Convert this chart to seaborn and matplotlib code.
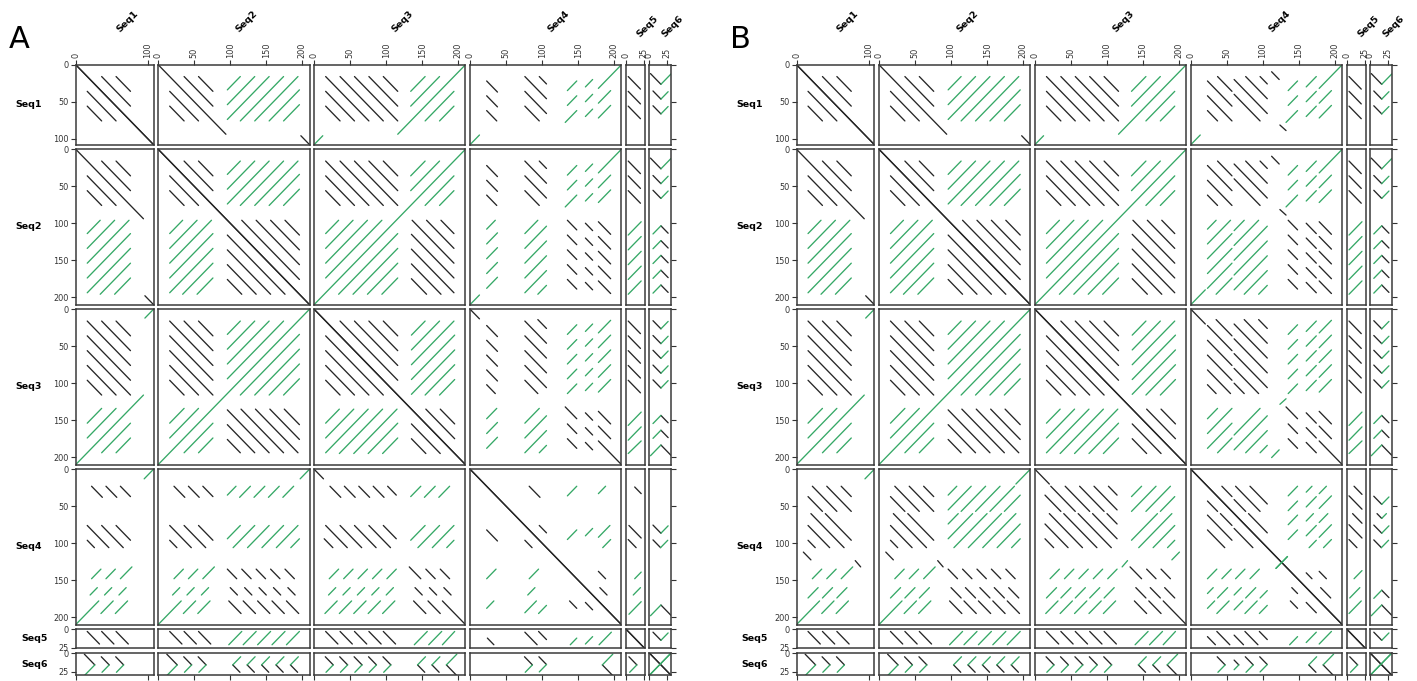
import matplotlib
matplotlib.use("Agg")
import matplotlib.pyplot as plt
import seaborn as sns
import pandas as pd

# ---------------- data ----------------
names = ["Seq1", "Seq2", "Seq3", "Seq4", "Seq5", "Seq6"]
lengths = [108, 210, 210, 210, 26, 30]
xticks = [[0, 100], [0, 50, 100, 150, 200], [0, 50, 100, 150, 200],
          [0, 50, 100, 150, 200], [0, 25], [0, 25]]
yticks = [[0, 50, 100], [0, 50, 100, 150, 200], [0, 50, 100, 150, 200],
          [0, 50, 100, 150, 200], [0, 25], [0, 25]]
panel_labels = ["A", "B"]

# match segments (x0, y0, x1, y1): x = column sequence, y = row sequence
seq1_seq1 = [(0, 0, 108, 108), (36, 16, 76, 56), (56, 16, 76, 36)]
seq1_seq2 = [(0, 0, 94, 94), (36, 16, 76, 56), (56, 16, 76, 36), (16, 36, 56, 76), (16, 56, 36, 76),
             (198, 96, 210, 108),
             (96, 34, 114, 16), (96, 54, 134, 16), (96, 74, 154, 16), (114, 76, 174, 16),
             (134, 76, 194, 16), (154, 76, 196, 34), (174, 76, 196, 54)]
seq1_seq3 = [(16, 56, 36, 76), (16, 36, 56, 76), (16, 16, 76, 76), (36, 16, 96, 76), (56, 16, 116, 76),
             (76, 16, 116, 56), (96, 16, 116, 36),
             (116, 94, 210, 0), (0, 108, 12, 96), (134, 36, 154, 16), (134, 56, 174, 16),
             (154, 76, 194, 36), (174, 76, 194, 56)]
seq1_seq5 = [(3, 16, 20, 33), (3, 36, 20, 53), (3, 56, 20, 73)]
seq1_seq6 = [(1.5, 12, 16, 26.5), (5, 35.5, 16, 46.5), (5, 55.5, 16, 66.5),
             (16, 26.5, 30, 12.5), (16, 46.5, 26, 36.5), (16, 66.5, 26, 56.5)]
seq2_seq2 = [(0, 0, 210, 210), (36, 16, 76, 56), (56, 16, 76, 36),
             (116, 96, 196, 176), (136, 96, 196, 156), (156, 96, 196, 136), (176, 96, 196, 116),
             (96, 34, 114, 16), (96, 54, 134, 16), (96, 74, 154, 16), (114, 76, 174, 16),
             (134, 76, 194, 16), (154, 76, 196, 34), (174, 76, 196, 54)]
seq2_seq3 = [(0, 210, 210, 0),
             (16, 56, 36, 76), (16, 36, 56, 76), (16, 16, 76, 76), (36, 16, 96, 76), (56, 16, 116, 76),
             (76, 16, 116, 56), (96, 16, 116, 36),
             (134, 36, 154, 16), (134, 56, 174, 16), (154, 76, 194, 36), (174, 76, 194, 56),
             (16, 114, 34, 96), (16, 134, 54, 96), (16, 154, 74, 96), (16, 174, 94, 96),
             (34, 196, 116, 114), (54, 196, 116, 134), (74, 196, 116, 154), (94, 196, 116, 174),
             (136, 96, 194, 154), (156, 96, 194, 134), (176, 96, 194, 114), (135, 115, 194, 174),
             (135, 135, 194, 194), (135, 155, 176, 196), (135, 175, 156, 196)]
seq2_seq5 = [(3, 16, 20, 33), (3, 36, 20, 53), (3, 56, 20, 73),
             (3, 116, 21, 98), (3, 136, 21, 118), (3, 156, 21, 138), (3, 176, 21, 158), (3, 196, 21, 178)]
seq2_seq6 = [(1.5, 12, 16, 26.5), (5, 35.5, 16, 46.5), (5, 55.5, 16, 66.5),
             (16, 26.5, 30, 12.5), (16, 46.5, 26, 36.5), (16, 66.5, 26, 56.5),
             (5, 114.5, 16, 103.5), (5, 134.5, 16, 123.5), (5, 154.5, 16, 143.5), (5, 174.5, 16, 163.5),
             (5, 194.5, 16, 183.5),
             (16, 103.5, 26, 113.5), (16, 123.5, 26, 133.5), (16, 143.5, 26, 153.5), (16, 163.5, 26, 173.5),
             (16, 183.5, 26, 193.5)]
seq3_seq3 = [(0, 0, 210, 210), (36, 16, 116, 96), (56, 16, 116, 76), (76, 16, 116, 56), (96, 16, 116, 36),
             (155, 135, 195, 175), (175, 135, 195, 155),
             (135, 35, 154, 16), (135, 55, 174, 16), (135, 75, 194, 16), (135, 95, 195, 35),
             (135, 115, 195, 55), (154, 116, 195, 75), (174, 116, 195, 95)]
seq3_seq5 = [(3, 16, 20, 33), (3, 36, 20, 53), (3, 56, 20, 73), (3, 76, 20, 93), (3, 96, 20, 113),
             (3, 157, 21, 139), (3, 177, 21, 159), (3, 195, 21, 178)]
seq3_seq6 = [(1.5, 198, 16, 183.5), (5, 174.5, 16, 163.5), (5, 154.5, 16, 143.5),
             (16, 183.5, 30, 197.5), (16, 163.5, 26, 173.5), (16, 143.5, 26, 153.5),
             (5, 95.5, 16, 106.5), (5, 75.5, 16, 86.5), (5, 55.5, 16, 66.5), (5, 35.5, 16, 46.5),
             (5, 15.5, 16, 26.5),
             (16, 106.5, 26, 96.5), (16, 86.5, 26, 76.5), (16, 66.5, 26, 56.5), (16, 46.5, 26, 36.5),
             (16, 26.5, 26, 16.5)]
seq5_seq5 = [(0, 0, 26, 26)]
seq5_seq6 = [(5, 4, 16, 15), (16, 15, 26, 5)]
seq6_seq6 = [(0, 0, 30, 30), (0, 30, 30, 0)]

# panel A: Seq4 comparisons
a_seq1_seq4 = [(23, 22, 38, 37), (23, 42, 38, 57), (23, 62, 37, 76), (96, 16, 106, 26), (76, 16, 106, 46),
               (76, 36, 106, 66), (76, 56, 96, 76),
               (135, 35, 148, 22), (135, 55, 148, 42), (132, 78, 148, 62), (160, 30, 170, 20),
               (160, 50, 170, 40), (160, 70, 170, 60), (178, 32, 210, 0), (178, 52, 195, 35),
               (178, 72, 195, 55), (0, 108, 13, 95)]
a_seq2_seq4 = [(23, 22, 38, 37), (23, 42, 38, 57), (23, 62, 37, 76), (96, 16, 106, 26), (76, 16, 106, 46),
               (76, 36, 106, 66), (76, 56, 96, 76),
               (135, 35, 148, 22), (135, 55, 148, 42), (132, 78, 148, 62), (160, 30, 170, 20),
               (160, 50, 170, 40), (160, 70, 170, 60), (178, 32, 210, 0), (178, 52, 195, 35),
               (178, 72, 195, 55), (0, 210, 13, 197),
               (23, 108, 35, 96), (23, 128, 38, 113), (23, 148, 38, 133), (23, 168, 38, 153), (23, 188, 38, 173),
               (76, 114, 94, 96), (76, 134, 106, 104), (76, 154, 106, 124), (76, 174, 106, 144),
               (76, 194, 106, 164), (94, 196, 106, 184),
               (135, 96, 148, 109), (135, 116, 148, 129), (135, 136, 148, 149), (135, 156, 148, 169),
               (135, 176, 148, 189),
               (160, 100, 170, 110), (160, 120, 170, 130), (160, 140, 170, 150), (160, 160, 170, 170),
               (160, 180, 170, 190),
               (178, 98, 195, 115), (178, 118, 195, 135), (178, 138, 195, 155), (178, 158, 195, 175),
               (178, 178, 195, 195)]
a_seq3_seq4 = [(23, 188, 38, 173), (23, 168, 38, 153), (23, 148, 37, 134), (96, 194, 106, 184),
               (76, 194, 106, 164), (76, 174, 106, 144), (76, 154, 96, 134),
               (135, 175, 148, 188), (135, 155, 148, 168), (132, 132, 148, 148), (160, 180, 170, 190),
               (160, 160, 170, 170), (160, 140, 170, 150), (178, 178, 210, 210), (178, 158, 195, 175),
               (178, 138, 195, 155), (0, 0, 13, 13),
               (23, 102, 35, 114), (23, 82, 38, 97), (23, 62, 38, 77), (23, 42, 38, 57), (23, 22, 38, 37),
               (76, 96, 94, 114), (76, 76, 106, 106), (76, 56, 106, 86), (76, 36, 106, 66), (76, 16, 106, 46),
               (94, 14, 106, 26),
               (135, 114, 148, 101), (135, 94, 148, 81), (135, 74, 148, 61), (135, 54, 148, 41),
               (135, 34, 148, 21),
               (160, 110, 170, 100), (160, 90, 170, 80), (160, 70, 170, 60), (160, 50, 170, 40),
               (160, 30, 170, 20),
               (178, 112, 195, 95), (178, 92, 195, 75), (178, 72, 195, 55), (178, 52, 195, 35),
               (178, 32, 195, 15)]
a_seq4_seq4 = [(0, 0, 210, 210), (82, 23, 97, 38), (96, 76, 106, 86), (178, 138, 188, 148), (180, 160, 190, 170),
               (135, 36, 148, 23), (178, 33, 188, 23), (135, 95, 148, 82), (160, 90, 170, 80),
               (178, 92, 194, 76), (184, 106, 195, 95)]
a_seq4_seq5 = [(12, 24, 21, 33), (4, 76, 21, 93), (3, 95, 14, 106),
               (12, 148, 21, 139), (10, 170, 20, 160), (4, 196, 21, 179)]
a_seq4_seq6 = [(5, 75.5, 16, 86.5), (16, 86.5, 26, 76.5), (5, 95.5, 15.5, 106), (15.5, 106, 25.5, 96),
               (1.5, 198, 16, 183.5), (16, 183.5, 30, 197.5)]

# panel B: Seq4 comparisons
b_seq1_seq4 = [(37, 16, 57, 36), (23, 22, 57, 56), (23, 42, 57, 76), (23, 62, 37, 76),
               (60, 40, 96, 76), (60, 20, 106, 66), (76, 16, 106, 46), (96, 16, 106, 26),
               (112, 9.5, 122.5, 20), (123.5, 81.5, 132, 89),
               (135, 35, 148, 22), (135, 55, 148, 42), (132, 78, 148, 62), (160, 30, 174, 16),
               (160, 50, 174, 36), (160, 70, 174, 56), (178, 32, 210, 0), (178, 52, 195, 35),
               (178, 72, 195, 55), (0, 108, 13, 95)]
b_seq2_seq4 = [(37, 16, 57, 36), (23, 22, 57, 56), (23, 42, 57, 76), (23, 62, 37, 76),
               (60, 40, 96, 76), (60, 20, 106, 66), (76, 16, 106, 46), (96, 16, 106, 26),
               (112, 9.5, 122.5, 20), (123.5, 81.5, 132, 89),
               (135, 35, 148, 22), (135, 55, 148, 42), (132, 78, 148, 62), (160, 30, 174, 16),
               (160, 50, 174, 36), (160, 70, 174, 56), (178, 32, 210, 0), (178, 52, 195, 35),
               (178, 72, 195, 55), (0, 210, 20, 190),
               (23, 108, 35, 96), (23, 128, 55, 96), (23, 148, 57, 114), (23, 168, 57, 134),
               (23, 188, 57, 154), (35, 196, 57, 174),
               (60, 110, 74, 96), (60, 130, 94, 96), (60, 150, 106, 104), (60, 170, 106, 124),
               (60, 190, 106, 144), (74, 196, 106, 164), (94, 196, 106, 184),
               (135, 96, 148, 109), (135, 116, 148, 129), (135, 136, 148, 149), (135, 156, 148, 169),
               (135, 176, 148, 189),
               (160, 100, 174, 114), (160, 120, 174, 134), (160, 140, 174, 154), (160, 160, 174, 174),
               (160, 180, 174, 194),
               (178, 98, 195, 115), (178, 118, 195, 135), (178, 138, 195, 155), (178, 158, 195, 175),
               (178, 178, 195, 195)]
b_seq3_seq4 = [(37, 194, 57, 174), (23, 188, 57, 154), (23, 168, 57, 134), (23, 148, 37, 134),
               (60, 170, 96, 134), (60, 190, 106, 144), (76, 194, 106, 164), (96, 194, 106, 184),
               (112, 200.5, 122.5, 190), (123.5, 128.5, 132, 121),
               (135, 175, 148, 188), (135, 155, 148, 168), (132, 132, 148, 148), (160, 180, 174, 194),
               (160, 160, 174, 174), (160, 140, 174, 154), (178, 178, 210, 210), (178, 158, 195, 175),
               (178, 138, 195, 155), (0, 0, 20, 20),
               (23, 102, 35, 114), (23, 82, 55, 114), (23, 62, 57, 96), (23, 42, 57, 76),
               (23, 22, 57, 56), (35, 14, 57, 36),
               (60, 100, 74, 114), (60, 80, 94, 114), (60, 60, 106, 106), (60, 40, 106, 86),
               (60, 20, 106, 66), (74, 14, 106, 46), (94, 14, 106, 26),
               (135, 114, 148, 101), (135, 94, 148, 81), (135, 74, 148, 61), (135, 54, 148, 41),
               (135, 34, 148, 21),
               (160, 110, 174, 96), (160, 90, 174, 76), (160, 70, 174, 56), (160, 50, 174, 36),
               (160, 30, 174, 16),
               (178, 112, 195, 95), (178, 92, 195, 75), (178, 72, 195, 55), (178, 52, 195, 35),
               (178, 32, 195, 15)]
b_seq4_seq4 = [(0, 0, 210, 210), (43, 23, 57, 37), (80, 60, 106, 86), (60, 41, 76, 57), (62, 23, 96, 57),
               (82, 23, 106, 47), (160, 140, 168, 148), (178, 138, 188, 148), (180, 160, 194, 174),
               (118, 134, 134, 118),
               (135, 36, 148, 23), (135, 56, 148, 43), (135, 75, 148, 62), (135, 95, 148, 82),
               (160, 31, 168, 23), (160, 51, 174, 37), (160, 70, 170, 60), (160, 90, 174, 76),
               (164, 106, 174, 96), (178, 33, 188, 23), (178, 53, 195, 36), (178, 72, 190, 60),
               (178, 92, 195, 75), (184, 106, 195, 95)]
b_seq4_seq5 = [(10, 23, 21, 34), (3, 36, 21, 54), (8, 60, 21, 73), (3, 75, 21, 93), (3, 95, 14, 106),
               (10, 148, 21, 137), (4, 174, 18, 160), (3, 195, 20, 178)]
b_seq4_seq6 = [(5, 36.5, 16, 47.5), (16, 47.5, 26, 37.5), (9.5, 60, 16, 66.5), (16, 66.5, 22.5, 60),
               (5, 75.5, 16, 86.5), (16, 86.5, 26, 76.5), (5, 95.5, 15.5, 106), (15.5, 106, 25.5, 96),
               (5, 174.5, 16, 163.5), (16, 163.5, 26, 173.5),
               (1.5, 198, 16, 183.5), (16, 183.5, 30, 197.5)]

shared_blocks = {(0, 0): seq1_seq1, (0, 1): seq1_seq2, (0, 2): seq1_seq3, (0, 4): seq1_seq5,
                 (0, 5): seq1_seq6, (1, 1): seq2_seq2, (1, 2): seq2_seq3, (1, 4): seq2_seq5,
                 (1, 5): seq2_seq6, (2, 2): seq3_seq3, (2, 4): seq3_seq5, (2, 5): seq3_seq6,
                 (4, 4): seq5_seq5, (4, 5): seq5_seq6, (5, 5): seq6_seq6}
panel_blocks = []
for s14, s24, s34, s44, s45, s46 in [
        (a_seq1_seq4, a_seq2_seq4, a_seq3_seq4, a_seq4_seq4, a_seq4_seq5, a_seq4_seq6),
        (b_seq1_seq4, b_seq2_seq4, b_seq3_seq4, b_seq4_seq4, b_seq4_seq5, b_seq4_seq6)]:
    d = dict(shared_blocks)
    d.update({(0, 3): s14, (1, 3): s24, (2, 3): s34, (3, 3): s44, (3, 4): s45, (3, 5): s46})
    panel_blocks.append(d)

# ---------------- style ----------------
sns.set_theme(style="white")
plt.rcParams["font.family"] = ["DejaVu Sans"]
FWD = "#262626"
REV = "#35a866"
FRAME = "#3a3a3a"
TXT = "#333333"

W, H = 1417, 681
fig = plt.figure(figsize=(W / 100, H / 100), dpi=100)
fig.patch.set_facecolor("white")

SX, SY, GAP = 0.7208, 0.740, 4.6
TOP = 64.7
LEFTS = [75.7, 796.5]


def spans(start, scale):
    out, p = [], start
    for L in lengths:
        out.append((p, L * scale))
        p += L * scale + GAP
    return out


for pi, blocks in enumerate(panel_blocks):
    cols = spans(LEFTS[pi], SX)
    rows = spans(TOP, SY)
    for r in range(6):
        for c in range(6):
            x, w = cols[c]
            y, h = rows[r]
            ax = fig.add_axes([x / W, 1 - (y + h) / H, w / W, h / H])
            if r <= c:
                segs = list(blocks[(r, c)])
                if r == c:
                    segs = segs + [(s[1], s[0], s[3], s[2]) for s in segs]
            else:
                segs = [(s[1], s[0], s[3], s[2]) for s in blocks[(c, r)]]
            recs = []
            for k, (x0, y0, x1, y1) in enumerate(segs):
                strand = "fwd" if (x1 - x0) * (y1 - y0) > 0 else "rev"
                recs.append((k, x0, y0, strand))
                recs.append((k, x1, y1, strand))
            df = pd.DataFrame(recs, columns=["seg", "x", "y", "strand"])
            sns.lineplot(data=df, x="x", y="y", units="seg", estimator=None, hue="strand",
                         hue_order=["fwd", "rev"], palette={"fwd": FWD, "rev": REV},
                         sort=False, legend=False, linewidth=0.95, ax=ax)
            ax.set_xlim(0, lengths[c])
            ax.set_ylim(lengths[r], 0)
            ax.set_xlabel("")
            ax.set_ylabel("")
            for sp in ax.spines.values():
                sp.set_color(FRAME)
                sp.set_linewidth(1.1)
            ax.tick_params(length=3.5, width=0.8, color=TXT, labelsize=5.9, labelcolor=TXT, pad=1.5)
            # x ticks
            if r == 0:
                ax.set_xticks(xticks[c])
                ax.xaxis.tick_top()
                ax.tick_params(axis="x", top=True, bottom=False, labeltop=True, labelbottom=False,
                               labelrotation=90)
                ax.xaxis.set_label_position("top")
                ax.set_xlabel(names[c], rotation=45, ha="left", va="bottom", fontweight="bold",
                              fontsize=6.8, labelpad=6, color="black")
            elif r == 5:
                ax.set_xticks(xticks[c])
                ax.tick_params(axis="x", bottom=True, top=False, labelbottom=False)
            else:
                ax.set_xticks([])
            # y ticks
            if c == 0:
                ax.set_yticks(yticks[r])
                ax.tick_params(axis="y", left=True, right=False, labelleft=True)
                ax.set_ylabel(names[r], rotation=0, ha="right", va="center", fontweight="bold",
                              fontsize=6.8, labelpad=8, color="black")
            elif c == 5:
                ax.set_yticks(yticks[r])
                ax.yaxis.tick_right()
                ax.tick_params(axis="y", right=True, left=False, labelright=False, labelleft=False)
            else:
                ax.set_yticks([])
    fig.text((LEFTS[pi] - 66.5) / W, 1 - 40 / H, panel_labels[pi], fontsize=22, va="center",
             ha="left", color="black")

fig.savefig("out.png", dpi=100, facecolor="white")
